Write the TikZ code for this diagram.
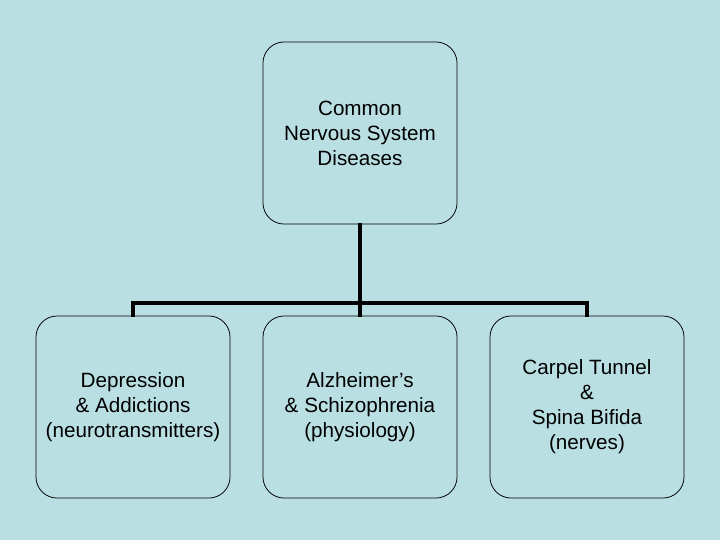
\documentclass[tikz,border=0pt]{standalone}
\usepackage{fontspec}
\setmainfont{Liberation Sans}
\usepackage{tikz}
\usetikzlibrary{positioning}
\definecolor{slidebg}{RGB}{185,223,227}
\tikzset{
  diseasebox/.style={draw=black,rounded corners=15pt,minimum width=4.85cm,minimum height=4.55cm,align=center,line width=0.55pt,font=\fontsize{14.7}{17.8}\selectfont},
  tree/.style={line width=2.6pt,line cap=rect}
}
\begin{document}
\begin{tikzpicture}[x=0.025cm,y=-0.025cm]
\fill[slidebg] (0,0) rectangle (720,540);
\useasboundingbox (0,0) rectangle (720,540);
\node[diseasebox] (common) at (360,133) {Common\\Nervous System\\ Diseases};
\node[diseasebox] (depress) at (133,407) {Depression\\\& Addictions\\(neurotransmitters)};
\node[diseasebox] (alzh) at (360,407) {Alzheimer’s\\\& Schizophrenia\\(physiology)};
\node[diseasebox] (carpel) at (587,407) {Carpel Tunnel\\\&\\Spina Bifida\\(nerves)};
\coordinate (bus) at (360,303);
% connectors
\draw[tree] (common.south) -- (bus);
\draw[tree] (depress.north) -- (depress.north |- bus) -- (carpel.north |- bus) -- (carpel.north);
\draw[tree] (bus) -- (alzh.north);
\end{tikzpicture}
\end{document}
